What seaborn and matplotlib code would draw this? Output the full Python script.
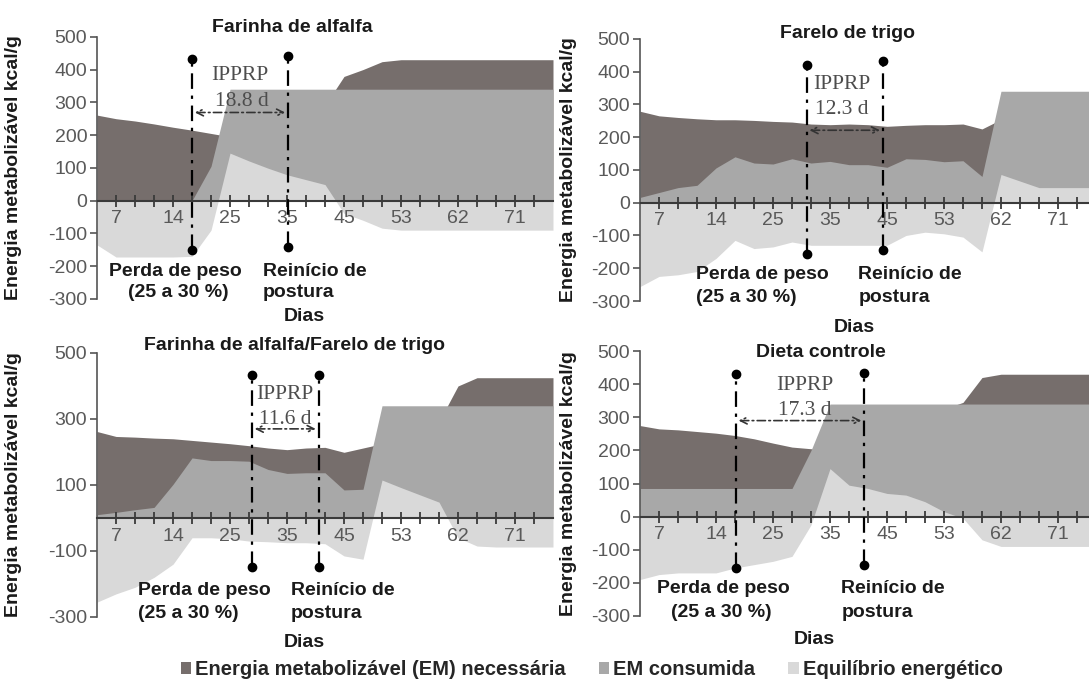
import numpy as np
import matplotlib
matplotlib.use("Agg")
import matplotlib.pyplot as plt
import seaborn as sns
from matplotlib.patches import Patch

# ---- data ----
dias_labels = ["7", "14", "25", "35", "45", "53", "62", "71"]

nec_alfalfa = [261, 250, 243, 234, 224, 215, 205, 195, 219, 241, 261, 276, 291,
               379, 400, 424, 430, 430, 430, 430, 430, 430, 430, 430, 430]
cons_alfalfa = [0, 0, 0, 0, 0, 0, 105, 340, 340, 340, 340, 340, 340,
                340, 340, 340, 340, 340, 340, 340, 340, 340, 340, 340, 340]
bal_alfalfa = [-135, -172, -172, -172, -172, -170, -90, 145, 121, 99, 79, 64, 49,
               -39, -60, -84, -90, -90, -90, -90, -90, -90, -90, -90, -90]

nec_trigo = [279, 265, 260, 256, 253, 253, 251, 248, 246, 240, 238, 240, 238,
             233, 236, 238, 238, 240, 225, 254, 270, 294, 294, 294, 294]
cons_trigo = [16, 31, 46, 53, 106, 140, 121, 118, 134, 121, 126, 116, 116,
              108, 134, 132, 125, 128, 80, 340, 340, 340, 340, 340, 340]
bal_trigo = [-256, -225, -220, -210, -170, -115, -140, -135, -120, -130, -130, -130, -130,
             -130, -100, -90, -95, -105, -150, 86, 66, 46, 46, 46, 46]

nec_mistura = [262, 247, 245, 242, 240, 235, 230, 225, 219, 212, 207, 212, 214,
               199, 212, 225, 248, 270, 292, 400, 425, 425, 425, 425, 425]
cons_mistura = [10, 17, 25, 32, 102, 182, 174, 174, 172, 147, 135, 137, 137,
                85, 87, 340, 340, 340, 340, 340, 340, 340, 340, 340, 340]
bal_mistura = [-255, -230, -210, -180, -140, -60, -60, -63, -70, -72, -75, -75, -78,
               -115, -125, 115, 92, 70, 48, -60, -85, -88, -88, -88, -88]

nec_controle = [275, 265, 262, 257, 252, 245, 235, 222, 210, 205, 195, 245, 255,
                270, 275, 295, 325, 345, 420, 430, 430, 430, 430, 430, 430]
cons_controle = [85, 85, 85, 85, 85, 85, 85, 85, 85, 200, 340, 340, 340,
                 340, 340, 340, 340, 340, 340, 340, 340, 340, 340, 340, 340]
bal_controle = [-190, -175, -170, -170, -170, -155, -145, -135, -120, -25, 145, 95, 85,
                70, 65, 45, 15, -5, -70, -90, -90, -90, -90, -90, -90]

titulos = ["Farinha de alfalfa", "Farelo de trigo",
           "Farinha de alfalfa/Farelo de trigo", "Dieta controle"]
ipprp = ["18.8 d", "12.3 d", "11.6 d", "17.3 d"]
series = [(nec_alfalfa, cons_alfalfa, bal_alfalfa),
          (nec_trigo, cons_trigo, bal_trigo),
          (nec_mistura, cons_mistura, bal_mistura),
          (nec_controle, cons_controle, bal_controle)]
legend_labels = ["Energia metabolizável (EM) necessária", "EM consumida",
                 "Equilíbrio energético"]

# ---- styling ----
sns.set_theme(style="white")
plt.rcParams["font.family"] = ["Liberation Sans", "DejaVu Sans"]
plt.rcParams["axes.unicode_minus"] = False
C_NEC, C_CONS, C_BAL = "#766e6c", "#a8a8a8", "#d9d9d9"
DASHDOT = (0, (7, 3, 1.5, 3))
FS = 14

# axes rectangles in figure fractions, plus per-panel annotation layout
layout = [
    dict(rect=[0.0891, 0.561, 0.4187, 0.385], ylab=-0.165, yt=range(-300, 501, 100),
         title=(10.3, 529), lines=[(5.0, 432, -151), (10.05, 441, -141)], arrow=269,
         ip=(7.5, 382), dv=(7.6, 304), perda=(4.1, 4.3, "center"), reini=8.73,
         ty=(-216, -281), dias=(10.9, -352)),
    dict(rect=[0.5877, 0.558, 0.4187, 0.385], ylab=-0.138, yt=range(-300, 501, 100),
         title=(10.9, 516), lines=[(8.77, 421, -157), (12.78, 431, -145)], arrow=221,
         ip=(10.6, 361), dv=(10.6, 284), perda=(2.96, 2.96, "left"), reini=11.5,
         ty=(-219, -289), dias=(11.3, -380)),
    dict(rect=[0.0891, 0.094, 0.4187, 0.3877], ylab=-0.165, yt=range(-300, 501, 200),
         title=(10.4, 522), lines=[(8.15, 434, -148), (11.66, 434, -148)], arrow=270,
         ip=(9.9, 375), dv=(9.9, 299), perda=(2.18, 2.18, "left"), reini=10.2,
         ty=(-220, -290), dias=(10.9, -378)),
    dict(rect=[0.5877, 0.0955, 0.4187, 0.389], ylab=-0.138, yt=range(-300, 501, 100),
         title=(9.5, 495), lines=[(5.04, 430, -155), (11.8, 435, -145)], arrow=290,
         ip=(8.68, 395), dv=(8.68, 320), perda=(4.37, 4.3, "center"), reini=10.6,
         ty=(-218, -290), dias=(9.2, -370)),
]

fig = plt.figure(figsize=(10.89, 6.81), dpi=100)

for k, (nec, cons, bal) in enumerate(series):
    L = layout[k]
    ax = fig.add_axes(L["rect"])
    ax.set_axisbelow(False)
    x = np.arange(len(nec))
    ax.fill_between(x, 0, nec, color=C_NEC, lw=0)
    ax.fill_between(x, 0, cons, color=C_CONS, lw=0)
    ax.fill_between(x, 0, bal, color=C_BAL, lw=0)

    ax.set_xlim(0, 24)
    ax.set_ylim(-300, 500)
    sns.despine(ax=ax)
    ax.spines["bottom"].set_position(("data", 0))
    ax.spines["bottom"].set_color("#3a3a3a")
    ax.spines["bottom"].set_linewidth(1.5)
    ax.spines["left"].set_color("#555555")
    ax.spines["left"].set_linewidth(1.2)
    ax.spines["left"].set_bounds(-300, 500)

    ax.set_xticks(np.arange(1, 24, 3))
    ax.set_xticklabels(dias_labels)
    ax.set_xticks(np.arange(1, 24), minor=True)
    ax.tick_params(axis="x", which="both", direction="inout", length=8, width=1.3,
                   color="#3a3a3a", bottom=True, labelsize=FS, labelcolor="#595959", pad=3)
    ax.set_yticks(list(L["yt"]))
    ax.tick_params(axis="y", direction="out", length=5, width=1.2, color="#555555",
                   left=True, labelsize=FS, labelcolor="#595959", pad=2)
    ax.set_ylabel("Energia metabolizável kcal/g", fontsize=FS, fontweight="bold",
                  color="#1a1a1a")
    ax.yaxis.set_label_coords(L["ylab"], 0.5)

    # title
    tx, ty = L["title"]
    ax.text(tx, ty, titulos[k], ha="center", va="center", fontsize=FS,
            fontweight="bold", color="#1a1a1a", clip_on=False)

    # vertical marker lines
    for lx, top, bot in L["lines"]:
        ax.plot([lx, lx], [bot, top], color="black", lw=1.6, ls=DASHDOT,
                clip_on=False, zorder=4)
        ax.plot([lx, lx], [bot, top], "o", color="black", ms=6, clip_on=False, zorder=5)

    (x1, _, _), (x2, _, _) = L["lines"]
    ax.annotate("", xy=(x2 - 0.15, L["arrow"]), xytext=(x1 + 0.15, L["arrow"]),
                arrowprops=dict(arrowstyle="<->", color="#333333", lw=1.2,
                                ls=(0, (5, 2, 1, 2)), shrinkA=0, shrinkB=0),
                zorder=4)
    ax.text(*L["ip"], "IPPRP", ha="center", va="center", fontsize=15.5,
            family=["Liberation Serif"], color="#4d4d4d", zorder=5)
    ax.text(*L["dv"], ipprp[k], ha="center", va="center", fontsize=15.5,
            family=["Liberation Serif"], color="#4d4d4d", zorder=5)

    # lower annotations
    px1, px2, pha = L["perda"]
    y1, y2 = L["ty"]
    ax.text(px1, y1, "Perda de peso", ha=pha, va="center", fontsize=FS,
            fontweight="bold", color="#1a1a1a", clip_on=False)
    ax.text(px2, y2, "(25 a 30 %)", ha=pha, va="center", fontsize=FS,
            fontweight="bold", color="#1a1a1a", clip_on=False)
    ax.text(L["reini"], y1, "Reinício de", ha="left", va="center", fontsize=FS,
            fontweight="bold", color="#1a1a1a", clip_on=False)
    ax.text(L["reini"], y2, "postura", ha="left", va="center", fontsize=FS,
            fontweight="bold", color="#1a1a1a", clip_on=False)
    ax.text(*L["dias"], "Dias", ha="center", va="center", fontsize=FS,
            fontweight="bold", color="#1a1a1a", clip_on=False)

# legend: three single-entry legends placed like the original
for lab, col, xpos in zip(legend_labels, [C_NEC, C_CONS, C_BAL], [0.166, 0.550, 0.724]):
    fig.legend(handles=[Patch(facecolor=col, edgecolor="none", label=lab)],
               loc="center left", bbox_to_anchor=(xpos, 0.017), frameon=False,
               prop=dict(weight="bold", size=14.5), handlelength=0.5,
               handleheight=0.5, handletextpad=0.2, borderpad=0, borderaxespad=0)

fig.savefig("out.png", dpi=100)
